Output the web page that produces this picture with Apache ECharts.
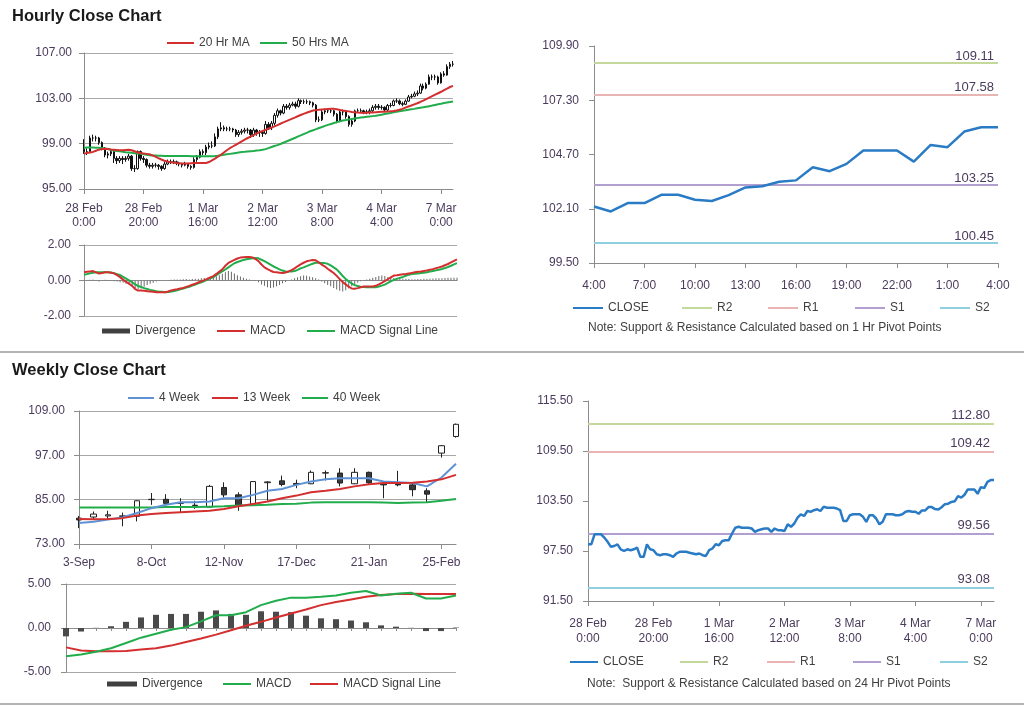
<!DOCTYPE html>
<html><head><meta charset="utf-8">
<script src="https://cdn.jsdelivr.net/npm/echarts@6/dist/echarts.min.js"></script>
<style>html,body{margin:0;padding:0;background:#fff}#c{width:1024px;height:706px}</style>
</head><body><div id="c"></div>
<script>
// ---------------- DATA ----------------
const hourlyTicks = ['28 Feb\n0:00','28 Feb\n20:00','1 Mar\n16:00','2 Mar\n12:00','3 Mar\n8:00','4 Mar\n4:00','7 Mar\n0:00'];
const hClose = [98.3,98.3,99.5,99.5,99.5,99.1,98.6,98.0,98.1,98.3,
 97.7,97.5,97.7,97.6,97.7,97.9,96.8,96.8,98.3,97.7,
 97.6,97.1,97.0,97.1,97.1,97.0,96.8,97.2,97.4,97.4,
 97.4,97.3,97.2,97.1,97.2,97.0,96.9,97.6,97.8,98.3,
 98.2,98.7,98.8,98.8,99.6,100.3,100.4,100.3,100.3,100.3,
 100.2,99.8,100.0,100.1,100.2,100.2,99.8,100.2,100.0,100.0,
 99.9,100.7,100.4,100.8,101.5,101.9,101.7,102.3,102.2,102.4,
 102.5,102.3,102.8,102.7,102.7,102.7,102.6,102.4,101.1,101.1,
 101.8,101.9,101.9,101.9,101.6,101.0,101.8,101.8,101.4,100.7,
 101.0,101.9,101.9,101.9,101.8,101.8,101.9,102.2,102.3,102.2,
 102.21,101.97,102.37,102.37,102.77,102.77,102.53,102.47,102.75,103.12,
 103.18,103.39,103.46,104.09,103.90,104.25,104.89,104.89,104.89,104.36,
 105.16,105.05,105.80,106.01,106.01];
const hOpen = [98.5,98.3,98.3,99.5,99.5,99.5,99.1,98.6,98.0,98.1,
 98.3,97.7,97.5,97.7,97.6,97.7,97.9,96.8,96.8,98.3,
 97.7,97.6,97.1,97.0,97.1,97.1,97.0,96.8,97.2,97.4,
 97.4,97.4,97.3,97.2,97.1,97.2,97.0,96.9,97.6,97.8,
 98.3,98.2,98.7,98.8,98.8,99.6,100.3,100.4,100.3,100.3,
 100.3,100.2,99.8,100.0,100.1,100.2,100.2,99.8,100.2,100.0,
 100.0,99.9,100.7,100.4,100.8,101.5,101.9,101.7,102.3,102.2,
 102.4,102.5,102.3,102.8,102.7,102.7,102.7,102.6,102.4,101.1,
 101.1,101.8,101.9,101.9,101.9,101.6,101.0,101.8,101.8,101.4,
 100.7,101.0,101.9,101.9,101.9,101.8,101.8,101.9,102.2,102.3,
 102.2,102.21,101.97,102.37,102.37,102.77,102.77,102.53,102.47,102.75,
 103.12,103.18,103.39,103.46,104.09,103.90,104.25,104.89,104.89,104.89,
 104.36,105.16,105.05,105.80,106.01];
const hHigh = [99.4,98.6,99.7,99.8,99.7,99.6,99.2,98.7,98.3,98.5,
 98.4,97.9,97.9,97.9,97.9,98.1,98.0,97.1,98.4,98.4,
 97.9,97.7,97.3,97.3,97.3,97.2,97.1,97.4,97.6,97.6,
 97.6,97.5,97.4,97.3,97.4,97.3,97.1,97.8,98.0,98.5,
 98.5,98.9,99.1,99.2,99.9,100.5,100.9,100.6,100.5,100.5,
 100.4,100.3,100.2,100.3,100.4,100.4,100.3,100.4,100.3,100.2,
 100.2,101.0,100.9,101.0,101.7,102.1,102.0,102.5,102.5,102.6,
 102.7,102.7,103.0,102.9,102.9,102.9,102.8,102.7,102.5,101.4,
 102.0,102.1,102.1,102.1,102.0,101.7,102.0,102.0,101.9,101.5,
 101.2,102.0,102.1,102.1,102.0,102.0,102.1,102.4,102.5,102.5,
 102.4,102.3,102.5,102.6,102.9,103.0,102.9,102.7,102.9,103.3,
 103.4,103.6,103.7,104.3,104.3,104.4,105.1,105.1,105.1,105.0,
 105.3,105.4,106.0,106.2,106.3];
const hLow = [98.1,98.0,98.2,99.2,99.2,98.9,98.4,97.8,97.7,97.9,
 97.3,97.2,97.3,97.2,97.4,97.5,96.6,96.5,96.7,97.5,
 97.3,96.9,96.8,96.8,96.9,96.7,96.6,96.7,97.1,97.2,
 97.2,97.1,97.0,96.9,97.0,96.8,96.7,96.8,97.4,97.7,
 98.0,98.0,98.5,98.6,98.7,99.4,100.1,100.1,100.1,100.1,
 100.0,99.6,99.6,99.8,99.9,99.9,99.5,99.6,99.7,99.6,
 99.6,99.8,100.2,100.2,100.6,101.3,101.5,101.6,102.0,102.0,
 102.3,102.1,102.2,102.5,102.5,102.5,102.4,102.2,100.9,100.9,
 101.0,101.6,101.7,101.7,101.4,100.8,100.9,101.5,101.2,100.5,
 100.5,100.9,101.7,101.7,101.6,101.6,101.6,101.8,102.0,102.0,
 102.0,101.8,101.9,102.2,102.3,102.6,102.4,102.3,102.4,102.7,
 103.0,103.1,103.2,103.4,103.7,103.8,104.2,104.6,104.6,104.2,
 104.3,104.9,105.0,105.6,105.8];
const hMA20 = [98.12,98.17,98.22,98.27,98.37,98.47,98.54,98.56,98.52,98.48,
 98.46,98.44,98.42,98.41,98.44,98.47,98.42,98.33,98.22,98.17,
 98.14,98.10,98.06,97.97,97.86,97.72,97.60,97.49,97.42,97.37,
 97.33,97.30,97.28,97.26,97.24,97.25,97.27,97.29,97.30,97.30,
 97.30,97.30,97.38,97.52,97.68,97.85,98.02,98.22,98.42,98.60,
 98.75,98.90,99.05,99.20,99.36,99.50,99.63,99.76,99.89,100.02,
 100.12,100.22,100.32,100.42,100.52,100.64,100.76,100.88,100.99,101.10,
 101.21,101.32,101.44,101.55,101.65,101.75,101.84,101.92,101.96,101.99,
 102.02,102.04,102.06,102.08,102.07,102.03,101.98,101.93,101.89,101.85,
 101.80,101.77,101.74,101.72,101.70,101.72,101.74,101.76,101.78,101.80,
 101.81,101.82,101.83,101.85,101.88,101.93,101.99,102.07,102.18,102.28,
 102.37,102.47,102.57,102.68,102.80,102.93,103.06,103.19,103.32,103.45,
 103.58,103.72,103.86,104.00,104.10];
const hMA50 = [98.65,98.66,98.66,98.66,98.65,98.65,98.62,98.58,98.53,98.47,
 98.40,98.35,98.32,98.29,98.25,98.22,98.19,98.16,98.13,98.10,
 98.06,98.02,97.98,97.96,97.95,97.94,97.93,97.92,97.92,97.92,
 97.92,97.92,97.92,97.92,97.91,97.91,97.90,97.90,97.89,97.89,
 97.89,97.89,97.89,97.89,97.91,97.94,97.98,98.02,98.06,98.10,
 98.14,98.18,98.22,98.26,98.28,98.31,98.34,98.36,98.39,98.41,
 98.46,98.52,98.61,98.70,98.79,98.87,98.97,99.08,99.19,99.30,
 99.41,99.52,99.64,99.75,99.87,99.98,100.10,100.19,100.28,100.38,
 100.47,100.57,100.66,100.74,100.82,100.90,100.97,101.05,101.09,101.14,
 101.18,101.22,101.26,101.30,101.34,101.37,101.40,101.43,101.46,101.51,
 101.56,101.61,101.66,101.71,101.77,101.82,101.86,101.90,101.94,101.99,
 102.03,102.07,102.12,102.17,102.21,102.26,102.31,102.36,102.42,102.47,
 102.52,102.58,102.63,102.68,102.73];
const hMacd = [0.47,0.49,0.51,0.53,0.46,0.39,0.42,0.46,0.46,0.44,
 0.40,0.30,0.19,0.05,-0.08,-0.18,-0.30,-0.48,-0.57,-0.57,
 -0.58,-0.60,-0.62,-0.64,-0.66,-0.66,-0.66,-0.66,-0.62,-0.56,
 -0.52,-0.49,-0.45,-0.42,-0.36,-0.30,-0.24,-0.18,-0.11,-0.04,
 0.02,0.09,0.17,0.25,0.37,0.50,0.63,0.83,0.99,1.08,
 1.16,1.24,1.29,1.31,1.32,1.33,1.30,1.21,1.09,0.90,
 0.74,0.64,0.55,0.48,0.46,0.44,0.42,0.45,0.51,0.58,
 0.68,0.80,0.91,1.00,1.08,1.12,1.16,1.14,1.02,0.90,
 0.80,0.66,0.54,0.42,0.26,0.08,-0.09,-0.22,-0.35,-0.45,
 -0.47,-0.43,-0.38,-0.34,-0.34,-0.34,-0.34,-0.30,-0.22,-0.13,
 -0.04,0.07,0.18,0.28,0.30,0.33,0.35,0.37,0.40,0.43,
 0.46,0.49,0.51,0.54,0.57,0.61,0.64,0.69,0.74,0.79,
 0.86,0.93,1.02,1.11,1.19];
const hSignal = [0.32,0.36,0.40,0.44,0.47,0.47,0.47,0.47,0.47,0.45,
 0.41,0.36,0.31,0.21,0.11,0.01,-0.10,-0.22,-0.31,-0.37,
 -0.43,-0.48,-0.53,-0.56,-0.60,-0.63,-0.64,-0.66,-0.65,-0.62,
 -0.59,-0.55,-0.50,-0.45,-0.40,-0.35,-0.29,-0.23,-0.16,-0.10,
 -0.03,0.05,0.13,0.19,0.30,0.41,0.52,0.62,0.74,0.86,
 0.97,1.04,1.10,1.16,1.20,1.23,1.25,1.27,1.25,1.17,
 1.09,0.99,0.89,0.79,0.71,0.63,0.56,0.51,0.50,0.51,
 0.53,0.60,0.68,0.74,0.81,0.88,0.94,1.00,1.00,0.99,
 0.98,0.94,0.85,0.74,0.63,0.45,0.25,0.09,-0.05,-0.17,
 -0.26,-0.31,-0.35,-0.37,-0.38,-0.38,-0.38,-0.38,-0.34,-0.29,
 -0.23,-0.14,-0.05,0.03,0.09,0.15,0.20,0.27,0.33,0.36,
 0.38,0.40,0.42,0.44,0.47,0.50,0.54,0.57,0.61,0.65,
 0.70,0.76,0.83,0.91,0.98];
const hDiv = [0.03,-0.02,0.04,0.05,-0.02,-0.05,0.02,0.04,-0.03,-0.02,
 -0.04,-0.06,-0.10,-0.12,-0.18,-0.25,-0.32,-0.42,-0.48,-0.45,
 -0.35,-0.25,-0.18,-0.12,-0.06,-0.03,-0.02,0.00,0.02,0.04,
 0.06,0.06,0.05,0.07,0.08,0.06,0.08,0.10,0.10,0.12,
 0.14,0.16,0.18,0.20,0.24,0.30,0.38,0.46,0.53,0.50,
 0.40,0.30,0.22,0.15,0.10,0.05,0.02,-0.03,-0.10,-0.22,
 -0.30,-0.38,-0.42,-0.40,-0.33,-0.25,-0.15,-0.08,0.00,0.06,
 0.12,0.18,0.24,0.28,0.27,0.22,0.18,0.12,0.05,-0.05,
 -0.15,-0.25,-0.33,-0.42,-0.50,-0.58,-0.62,-0.55,-0.45,-0.32,
 -0.22,-0.12,-0.04,0.02,0.06,0.10,0.15,0.20,0.25,0.28,
 0.25,0.20,0.16,0.14,0.12,0.12,0.10,0.10,0.08,0.07,
 0.07,0.08,0.09,0.10,0.10,0.10,0.11,0.12,0.12,0.13,
 0.14,0.15,0.15,0.16,0.16];

const recentHours = ['4:00','5:00','6:00','7:00','8:00','9:00','10:00','11:00','12:00','13:00','14:00','15:00','16:00','17:00','18:00','19:00','20:00','21:00','22:00','23:00','0:00','1:00','2:00','3:00','4:00'];
const pivotNames = ['R2','R1','S1','S2'];
const hourPivotValues = [109.11, 107.58, 103.25, 100.45];
const dayPivotValues = [112.80, 109.42, 99.56, 93.08];

const weeks = ['3-Sep','10-Sep','17-Sep','24-Sep','1-Oct','8-Oct','15-Oct','22-Oct','29-Oct','5-Nov','12-Nov','19-Nov','26-Nov','3-Dec','10-Dec','17-Dec','24-Dec','31-Dec','7-Jan','14-Jan','21-Jan','28-Jan','4-Feb','11-Feb','18-Feb','25-Feb','4-Mar'];
const wOpen  = [80.0,80.3,80.6,80.6,80.5,85.0,85.1,84.2,83.5,83.0,88.3,86.3,83.8,89.6,90.1,89.4,89.3,92.2,92.2,89.3,92.4,89.2,89.6,89.0,87.4,97.6,102.1];
const wClose = [79.5,81.1,80.9,80.5,84.7,85.1,84.0,84.0,83.4,88.6,86.3,83.5,89.9,89.8,89.1,89.1,92.4,92.3,89.5,92.4,89.6,89.0,89.0,87.7,86.5,99.6,105.4];
const wHigh  = [80.6,81.8,82.0,81.5,84.8,86.8,86.5,85.4,84.7,89.0,89.7,87.0,90.0,90.0,91.5,90.4,92.9,92.9,93.5,93.5,92.6,90.0,92.8,89.5,88.1,99.8,105.6];
const wLow   = [77.3,79.7,79.8,77.8,79.1,83.6,83.6,81.6,82.5,82.9,85.6,82.0,83.5,84.7,88.6,88.1,89.2,90.2,88.6,89.2,89.2,85.4,88.6,85.9,84.3,96.4,101.8];
const w4  = [78.7,79.0,79.6,80.2,81.4,82.7,83.6,84.3,84.3,84.5,85.4,85.4,86.3,87.4,87.9,89.0,89.9,90.5,90.8,90.8,90.8,89.9,89.7,89.5,88.6,91.0,94.7];
const w13 = [79.8,79.7,79.8,80.0,80.7,81.1,81.4,81.6,81.8,82.0,82.5,83.2,83.8,84.5,85.4,86.1,87.0,87.4,87.9,88.6,89.2,89.5,89.5,89.6,89.9,90.5,91.7];
const w40 = [82.9,82.9,82.9,82.9,82.9,82.9,83.0,83.0,83.0,83.1,83.2,83.4,83.5,83.6,83.8,83.9,84.2,84.3,84.3,84.3,84.3,84.2,84.1,84.2,84.3,84.7,85.2];
const wDiv    = [-0.95,-0.4,0.02,0.2,0.7,1.2,1.5,1.6,1.6,1.85,2.0,1.6,1.5,1.9,1.85,1.8,1.4,1.1,1.0,0.85,0.65,0.3,0.15,0.02,-0.35,-0.35,0.05];
const wMacd   = [-3.2,-3.0,-2.7,-2.3,-1.7,-1.1,-0.65,-0.2,0.1,0.75,1.45,1.45,1.8,2.6,3.1,3.45,3.45,3.55,3.7,4.0,4.2,3.7,3.9,4.0,3.35,3.35,3.7];
const wSignal = [-2.2,-2.55,-2.65,-2.65,-2.6,-2.45,-2.3,-2.0,-1.6,-1.2,-0.75,-0.25,0.25,0.7,1.2,1.65,2.1,2.6,2.95,3.25,3.55,3.75,3.85,3.9,3.85,3.85,3.85];

// ---------------- STYLE ----------------
const FONT = '"Liberation Sans", Arial, sans-serif';
const LBL = '#4a3b5c';
const AXC = '#8c8c8c';
const GRC = '#a8a8a8';
const RED = '#d32f2f', GREEN = '#22ad4c', BLUE = '#2a7bc6', LBLUE = '#5e92d4';
const pivotColors = {R2:'#c4d89c', R1:'#e8b4b4', S1:'#b19fd0', S2:'#8fd0e0'};

const hourCats = hClose.map((_, i) => String(i));
const fmt2 = v => Number(v).toFixed(2);
const hourTickFmt = (v, i) => (i % 20 === 0 ? hourlyTicks[i / 20] : '');

function catAxis(gi, data, o) {
  o = o || {};
  return {
    type: 'category', gridIndex: gi, data: data, boundaryGap: false,
    axisLine: {show: true, onZero: !!o.onZero, lineStyle: {color: AXC, width: 1}},
    axisTick: o.tick === false ? {show: false} : {show: true, interval: o.tickInterval == null ? 0 : o.tickInterval, length: o.tickLen || 5, lineStyle: {color: AXC}},
    axisLabel: o.label === false ? {show: false} : {show: true, interval: o.labelInterval, formatter: o.formatter, margin: o.margin || 10, color: LBL, fontSize: 12, fontFamily: FONT, lineHeight: o.lineHeight || 14},
    splitLine: {show: false}
  };
}
function valAxis(gi, min, max, interval, split, margin) {
  return {
    type: 'value', gridIndex: gi, min: min, max: max, interval: interval, scale: true,
    axisLine: {show: true, lineStyle: {color: AXC, width: 1}},
    axisTick: {show: true, length: 5, lineStyle: {color: AXC}},
    axisLabel: {color: LBL, fontSize: 12, fontFamily: FONT, margin: margin, formatter: fmt2},
    splitLine: {show: split, lineStyle: {color: GRC, width: 1}}
  };
}
function lineS(name, xi, data, color, width, z) {
  return {name: name, type: 'line', xAxisIndex: xi, yAxisIndex: xi, data: data, symbol: 'none', showSymbol: false,
    lineStyle: {color: color, width: width}, itemStyle: {color: color}, z: z || 3, silent: true};
}
function pivotSeries(tag, xi, values, dist) {
  return pivotNames.map((n, k) => ({
    name: n + '|' + tag, type: 'line', xAxisIndex: xi, yAxisIndex: xi, data: [], symbol: 'none',
    itemStyle: {color: pivotColors[n]}, lineStyle: {color: pivotColors[n], width: 2},
    markLine: {silent: true, symbol: ['none', 'none'], animation: false,
      lineStyle: {color: pivotColors[n], width: 2, type: 'solid'},
      label: {show: true, position: 'insideEndTop', distance: [4, dist], formatter: fmt2(values[k]), color: LBL, fontSize: 13, fontFamily: FONT},
      data: [{yAxis: values[k]}]},
    z: 2
  }));
}
function legendItem(name, left, yc, o) {
  o = o || {};
  const h = o.h || 2;
  const item = {name: name};
  if (o.color) item.itemStyle = {color: o.color};
  return {show: true, left: left, top: yc - 7, padding: 0, itemGap: 0, selectedMode: false,
    icon: 'rect', itemWidth: o.w || 28, itemHeight: h,
    textStyle: {fontSize: 12, color: '#404040', fontFamily: FONT, padding: [0, 0, 0, 0]},
    formatter: n => n.split('|')[0], data: [item]};
}

const hourlyOHLC = hOpen.map((o, i) => [o, hClose[i], hLow[i], hHigh[i]]);
const weeklyOHLC = wOpen.map((o, i) => [o, wClose[i], wLow[i], wHigh[i]]);

const option = {
  animation: false,
  backgroundColor: '#ffffff',
  textStyle: {fontFamily: FONT},
  title: [
    {text: 'Hourly Close Chart', left: 12, top: 8, padding: 0, textStyle: {fontSize: 16.5, fontWeight: 'bold', color: '#1a1a1a', fontFamily: FONT}},
    {text: 'Weekly Close Chart', left: 12, top: 362, padding: 0, textStyle: {fontSize: 16.5, fontWeight: 'bold', color: '#1a1a1a', fontFamily: FONT}},
    {text: 'Note: Support & Resistance Calculated based on 1 Hr Pivot Points', left: 588, top: 322, padding: 0, textStyle: {fontSize: 12, fontWeight: 'normal', color: '#404040', fontFamily: FONT}},
    {text: 'Note:  Support & Resistance Calculated based on 24 Hr Pivot Points', left: 587, top: 678, padding: 0, textStyle: {fontSize: 12, fontWeight: 'normal', color: '#404040', fontFamily: FONT}}
  ],
  graphic: [
    {type: 'line', shape: {x1: 0, y1: 352, x2: 1024, y2: 352}, style: {stroke: '#9a9a9a', lineWidth: 1.5}, silent: true},
    {type: 'line', shape: {x1: 0, y1: 704, x2: 1024, y2: 704}, style: {stroke: '#9a9a9a', lineWidth: 1.5}, silent: true}
  ],
  legend: [
    legendItem('20 Hr MA', 167, 44, {w: 27}),
    legendItem('50 Hrs MA', 260, 44, {w: 27}),
    legendItem('Divergence|1', 102, 332, {w: 28, h: 5, color: '#404040'}),
    legendItem('MACD|1', 217, 332, {w: 28}),
    legendItem('MACD Signal Line|1', 307, 332, {w: 28}),
    legendItem('CLOSE|1', 573, 309, {w: 30}),
    legendItem('R2|1', 682, 309, {w: 30}),
    legendItem('R1|1', 768, 309, {w: 30}),
    legendItem('S1|1', 855, 309, {w: 30}),
    legendItem('S2|1', 940, 309, {w: 30}),
    legendItem('4 Week', 128, 399, {w: 26}),
    legendItem('13 Week', 212, 399, {w: 26}),
    legendItem('40 Week', 302, 399, {w: 26}),
    legendItem('Divergence|2', 107, 685, {w: 30, h: 5, color: '#404040'}),
    legendItem('MACD|2', 223, 685, {w: 28}),
    legendItem('MACD Signal Line|2', 310, 685, {w: 28}),
    legendItem('CLOSE|2', 570, 663, {w: 28}),
    legendItem('R2|2', 680, 663, {w: 28}),
    legendItem('R1|2', 767, 663, {w: 28}),
    legendItem('S1|2', 853, 663, {w: 28}),
    legendItem('S2|2', 940, 663, {w: 28})
  ],
  grid: [
    {left: 84, top: 53, width: 369, height: 136},
    {left: 84, top: 245, width: 373, height: 71},
    {left: 594, top: 46, width: 404, height: 217},
    {left: 79, top: 411, width: 377, height: 133},
    {left: 66, top: 584, width: 390, height: 88},
    {left: 588, top: 401, width: 406, height: 200}
  ],
  xAxis: [
    catAxis(0, hourCats, {tickInterval: 19, labelInterval: 19, formatter: hourTickFmt, margin: 13, lineHeight: 14}),
    catAxis(1, hourCats, {tick: false, label: false, onZero: true}),
    catAxis(2, recentHours, {tickInterval: 2, labelInterval: 2, margin: 16}),
    catAxis(3, weeks, {tickInterval: 4, labelInterval: 4, margin: 12}),
    catAxis(4, weeks, {tickInterval: 0, tickLen: 3, label: false, onZero: true}),
    catAxis(5, hourCats, {tickInterval: 19, labelInterval: 19, formatter: hourTickFmt, margin: 15, lineHeight: 15})
  ],
  yAxis: [
    valAxis(0, 95, 107, 4, true, 12),
    valAxis(1, -2, 2, 2, true, 13),
    valAxis(2, 99.5, 109.9, 2.6, false, 15),
    valAxis(3, 73, 109, 12, true, 14),
    valAxis(4, -5, 5, 5, true, 15),
    valAxis(5, 91.5, 115.5, 6, false, 15)
  ],
  series: [
    {name: 'Hourly', type: 'candlestick', xAxisIndex: 0, yAxisIndex: 0, data: hourlyOHLC, barWidth: 2, silent: true,
      itemStyle: {color: '#ffffff', color0: '#111111', borderColor: '#111111', borderColor0: '#111111', borderWidth: 1}, z: 2},
    lineS('20 Hr MA', 0, hMA20, RED, 2, 4),
    lineS('50 Hrs MA', 0, hMA50, GREEN, 2, 3),

    {name: 'Divergence|1', type: 'bar', xAxisIndex: 1, yAxisIndex: 1, data: hDiv, barWidth: 1, silent: true, itemStyle: {color: '#6a6a6a'}, z: 2},
    lineS('MACD|1', 1, hMacd, RED, 2, 4),
    lineS('MACD Signal Line|1', 1, hSignal, GREEN, 2, 3),

    lineS('CLOSE|1', 2, hClose.slice(100), BLUE, 2.5, 5),
    ...pivotSeries('1', 2, hourPivotValues, 0),

    {name: 'Weekly', type: 'candlestick', xAxisIndex: 3, yAxisIndex: 3, data: weeklyOHLC, barWidth: 6, silent: true, clip: true,
      itemStyle: {color: '#ffffff', color0: '#3a3a3a', borderColor: '#222222', borderColor0: '#222222', borderWidth: 1}, z: 2},
    lineS('4 Week', 3, w4, LBLUE, 2, 4),
    lineS('13 Week', 3, w13, RED, 2, 4),
    lineS('40 Week', 3, w40, GREEN, 2, 3),

    {name: 'Divergence|2', type: 'bar', xAxisIndex: 4, yAxisIndex: 4, data: wDiv, barWidth: 6, silent: true, itemStyle: {color: '#4a4a4a'}, z: 2},
    lineS('MACD|2', 4, wMacd, GREEN, 2, 4),
    lineS('MACD Signal Line|2', 4, wSignal, RED, 2, 3),

    lineS('CLOSE|2', 5, hClose, BLUE, 2.5, 5),
    ...pivotSeries('2', 5, dayPivotValues, 2)
  ]
};

const chart = echarts.init(document.getElementById('c'), null, {renderer: 'canvas'});
chart.setOption(option);
</script>
</body></html>
